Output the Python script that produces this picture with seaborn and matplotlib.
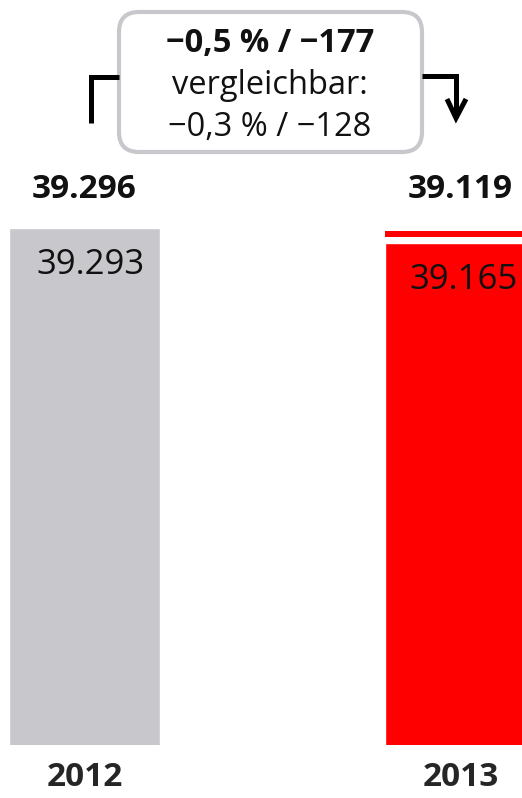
import numpy as np
import pandas as pd
import matplotlib.pyplot as plt
import seaborn as sns
from matplotlib.patches import FancyBboxPatch

# Data
years = ['2012', '2013']
comparable = [39293, 39165]        # value inside the bars
reported = [39296, 39119]          # bold value above the bars
stripe_low = [np.nan, 39216]       # thin red stripe on top of 2013 bar
stripe_high = [np.nan, 39273]
change_line1 = '−0,5 % / −177'
change_line2 = 'vergleichbar:'
change_line3 = '−0,3 % / −128'

colors = ['#c8c8cc', '#ff0000']

sns.set_theme(style='white')
plt.rcParams['font.family'] = ['Open Sans', 'DejaVu Sans']

W, H = 522, 798
fig = plt.figure(figsize=(W / 100, H / 100), dpi=100)

# main axes: bottom of bars at pixel row 744.5
bottom_px = 744.5
ax = fig.add_axes([0, (H - bottom_px) / H, 1, bottom_px / H])
df = pd.DataFrame({'year': years, 'value': comparable})
bar_w = 151 / 376
sns.barplot(data=df, x='year', y='value', hue='year', palette=colors,
            width=bar_w, legend=False, ax=ax, saturation=1)
for x, lo, hi in zip(range(len(years)), stripe_low, stripe_high):
    if not np.isnan(lo):
        ax.bar(x, hi - lo, bottom=lo, width=bar_w, color=colors[1], linewidth=0)

xmax = 1 + (W - 460.5) / 376
ax.set_xlim(-84.5 / 376, xmax)
units_per_px = 128 / 15
ymin = comparable[0] - (bottom_px - 228.3) * units_per_px
ax.set_ylim(ymin, ymin + bottom_px * units_per_px)
sns.despine(ax=ax, left=True, bottom=True)
ax.set_xlabel('')
ax.set_ylabel('')
ax.set_yticks([])
ax.tick_params(axis='x', length=0, pad=12)
for lbl in ax.get_xticklabels():
    lbl.set_fontsize(24)
    lbl.set_fontweight('bold')

# labels inside bars (right aligned) and bold totals above
for i, v in enumerate(comparable):
    right = min(i + bar_w / 2, xmax)
    off = -15 if right < xmax else -4
    ax.annotate(f'{v / 1000:.3f}', (right, v), xytext=(off, -20),
                textcoords='offset pixels', ha='right', va='top', fontsize=25,
                color='#111111', annotation_clip=False)
for i, v in enumerate(reported):
    ax.annotate(f'{v / 1000:.3f}', (i, comparable[0]), xytext=(0, 39),
                textcoords='offset pixels', ha='center', va='center',
                fontsize=24, fontweight='bold', color='#111111')

# overlay in pixel space for the change box and connectors
ov = fig.add_axes([0, 0, 1, 1])
ov.set_xlim(0, W)
ov.set_ylim(H, 0)
ov.axis('off')
ov.patch.set_alpha(0)

box = FancyBboxPatch((119, 12), 303, 140, boxstyle='round,pad=0,rounding_size=20',
                     facecolor='white', edgecolor='#c8c8cc', linewidth=3)
ov.add_patch(box)
ov.plot([90.5, 90.5, 119], [123, 77, 77], color='black', lw=3.6,
        solid_joinstyle='miter', solid_capstyle='butt')
ov.plot([422, 456, 456], [76, 76, 116], color='black', lw=3.6,
        solid_joinstyle='miter', solid_capstyle='butt')
ov.plot([447, 456, 466], [99, 118, 99], color='black', lw=3.6,
        solid_joinstyle='miter', solid_capstyle='butt')

ov.text(270, 43, change_line1, ha='center', va='center', fontsize=23.5,
        fontweight='bold', color='#111111')
ov.text(270, 85, change_line2, ha='center', va='center', fontsize=23.5,
        color='#111111')
ov.text(270, 127, change_line3, ha='center', va='center', fontsize=23.5,
        color='#111111')

fig.savefig('out.png', dpi=100)
